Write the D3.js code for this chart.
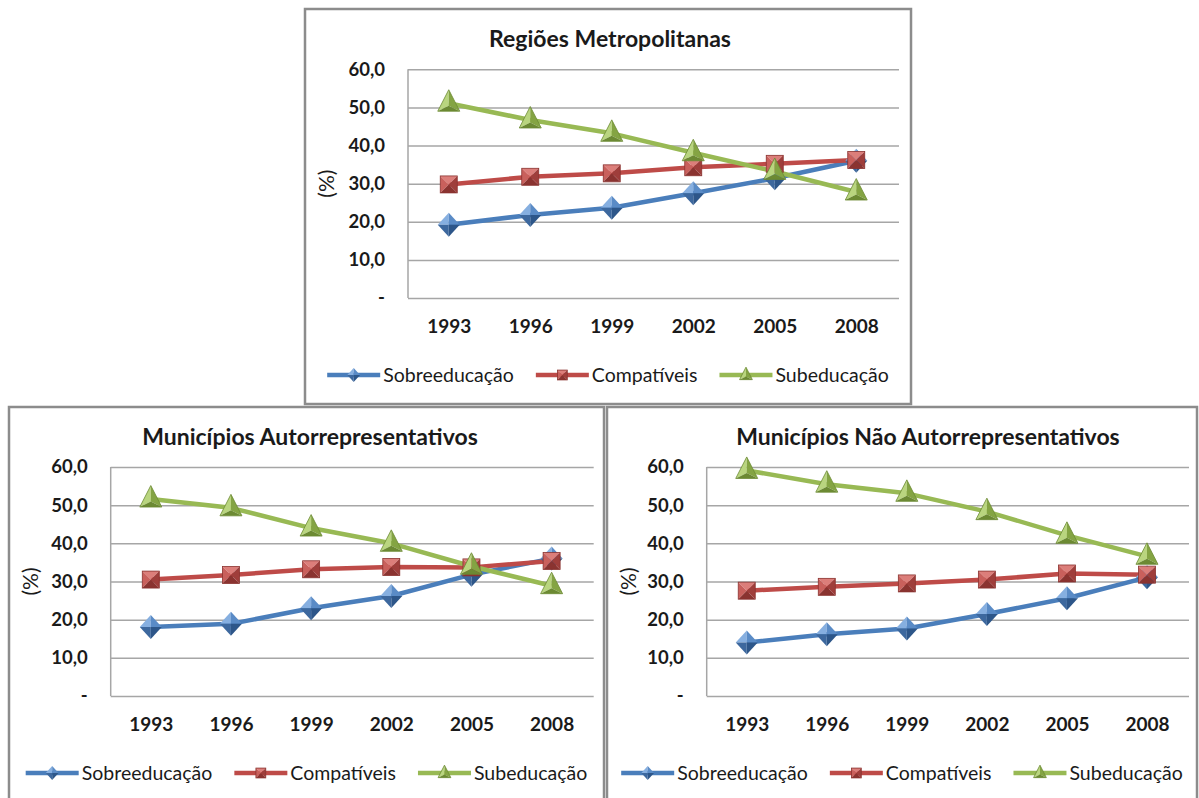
<!DOCTYPE html>
<html>
<head>
<meta charset="utf-8">
<script src="https://cdn.jsdelivr.net/npm/d3@7"></script>
<style>
  html, body { margin: 0; padding: 0; background: #fff; }
  svg { display: block; }
  text { font-family: Lato, "Open Sans", sans-serif; fill: #1a1a1a; }
</style>
</head>
<body>
<svg id="chart" width="1199" height="798"></svg>
<script>
// Categories and tick labels
const years = ["1993", "1996", "1999", "2002", "2005", "2008"];
const yTicks = [0, 10, 20, 30, 40, 50, 60];
const yTickLabels = ["-", "10,0", "20,0", "30,0", "40,0", "50,0", "60,0"];
const seriesNames = ["Sobreeducação", "Compatíveis", "Subeducação"];
const panelTitles = ["Regiões Metropolitanas", "Municípios Autorrepresentativos", "Municípios Não Autorrepresentativos"];
const yAxisTitle = "(%)";

// Regiões Metropolitanas (%)
const rmSobre  = [19.2, 21.8, 23.7, 27.5, 31.4, 36.0];
const rmCompat = [29.8, 31.8, 32.7, 34.3, 35.2, 36.2];
const rmSub    = [51.1, 46.7, 43.2, 38.1, 33.2, 27.8];

// Municípios Autorrepresentativos (%)
const maSobre  = [18.1, 18.9, 23.0, 26.2, 31.8, 36.0];
const maCompat = [30.5, 31.7, 33.2, 33.8, 33.7, 35.4];
const maSub    = [51.6, 49.3, 44.0, 40.0, 34.0, 28.9];

// Municípios Não Autorrepresentativos (%)
const mnaSobre  = [14.0, 16.2, 17.7, 21.5, 25.6, 31.1];
const mnaCompat = [27.6, 28.6, 29.5, 30.5, 32.1, 31.8];
const mnaSub    = [59.1, 55.5, 53.1, 48.3, 42.1, 36.6];

// Series styling: line colour, marker shape and bevel facet shades
const seriesStyle = [
  { color: "#4a7ebb", shape: "diamond", shades: ["#86afe0", "#5a8bc6", "#2d5689", "#3d689e"] },
  { color: "#be4b48", shape: "square",  shades: ["#dc7e7a", "#c9605c", "#9f3e3b", "#8a3330"] },
  { color: "#98b954", shape: "triangle", shades: ["#b9d57f", "#84a443", "#6c8a33"] }
];

// Panel layouts (frame box, plot box, text anchors)
const panels = [
  { title: panelTitles[0], values: [rmSobre, rmCompat, rmSub],
    frame: { x: 305, y: 9, w: 606, h: 395 }, plot: { l: 408, r: 897, t: 69.3, b: 298 },
    titleX: 610 },
  { title: panelTitles[1], values: [maSobre, maCompat, maSub],
    frame: { x: 9, y: 407, w: 595, h: 420 }, plot: { l: 110.7, r: 591.7, t: 467, b: 696 },
    titleX: 310 },
  { title: panelTitles[2], values: [mnaSobre, mnaCompat, mnaSub],
    frame: { x: 607, y: 407, w: 590, h: 420 }, plot: { l: 706.7, r: 1187, t: 467, b: 696 },
    titleX: 928 }
];

const svg = d3.select("#chart");

// Bevelled marker drawn as facets around its centre
function drawMarker(g, style, k) {
  const s = style.shades;
  if (style.shape === "diamond") {
    const w = 11 * k, h = 12 * k;
    const facets = [
      [[0, 0], [-w, 0], [0, -h]],
      [[0, 0], [0, -h], [w, 0]],
      [[0, 0], [w, 0], [0, h]],
      [[0, 0], [0, h], [-w, 0]]
    ];
    facets.forEach((f, i) => g.append("path").attr("d", d3.line()(f) + "Z").attr("fill", s[i]));
  } else if (style.shape === "square") {
    const a = 8.5 * k, c = [0, 0];
    const facets = [
      [c, [-a, -a], [a, -a]],
      [c, [-a, -a], [-a, a]],
      [c, [a, -a], [a, a]],
      [c, [-a, a], [a, a]]
    ];
    facets.forEach((f, i) => g.append("path").attr("d", d3.line()(f) + "Z").attr("fill", s[i]));
    g.append("rect").attr("x", -a).attr("y", -a).attr("width", 2 * a).attr("height", 2 * a)
      .attr("fill", "none").attr("stroke", "#8a3330").attr("stroke-width", 0.8);
  } else {
    const top = [0, -13.5 * k], bl = [-11 * k, 8 * k], br = [11 * k, 8 * k], c = [0, 2.5 * k];
    const facets = [[top, bl, c], [top, c, br], [bl, br, c]];
    facets.forEach((f, i) => g.append("path").attr("d", d3.line()(f) + "Z").attr("fill", s[i]));
    g.append("path").attr("d", d3.line()([top, bl, br]) + "Z")
      .attr("fill", "none").attr("stroke", "#6c8a33").attr("stroke-width", 0.8);
  }
}

panels.forEach(p => {
  const g = svg.append("g");
  const { l, r, t, b } = p.plot;

  const x = d3.scalePoint().domain(years).range([l, r]).padding(0.5);
  const y = d3.scaleLinear().domain([0, 60]).range([b, t]);

  // Outer frame
  g.append("rect")
    .attr("x", p.frame.x).attr("y", p.frame.y)
    .attr("width", p.frame.w).attr("height", p.frame.h)
    .attr("fill", "#fff").attr("stroke", "#8c8c8c").attr("stroke-width", 2.5);

  // Title
  g.append("text")
    .attr("x", p.titleX).attr("y", p.frame.y + 38)
    .attr("text-anchor", "middle")
    .style("font-size", "23px").style("font-weight", "700")
    .text(p.title);

  // Horizontal gridlines
  g.append("g")
    .attr("transform", `translate(${l},0)`)
    .call(d3.axisLeft(y).tickValues(yTicks).tickSize(-(r - l + 2)).tickFormat(""))
    .call(a => a.select(".domain").remove())
    .call(a => a.selectAll("line").attr("stroke", "#a6a6a6").attr("stroke-width", 1.5));

  // Left axis line
  g.append("line").attr("x1", l).attr("x2", l).attr("y1", t).attr("y2", b)
    .attr("stroke", "#a6a6a6").attr("stroke-width", 1.5);

  // Y tick labels
  g.append("g")
    .attr("transform", `translate(${l},0)`)
    .call(d3.axisLeft(y).tickValues(yTicks).tickSize(0).tickPadding(23)
      .tickFormat((d, i) => yTickLabels[i]))
    .call(a => a.select(".domain").remove())
    .call(a => a.selectAll("text")
      .style("font-family", "Lato, sans-serif").style("font-size", "18.5px")
      .style("font-weight", "700").attr("fill", "#1a1a1a"));

  // X tick labels
  g.append("g")
    .attr("transform", `translate(0,${b})`)
    .call(d3.axisBottom(x).tickSize(0).tickPadding(22))
    .call(a => a.select(".domain").remove())
    .call(a => a.selectAll("text")
      .style("font-family", "Lato, sans-serif").style("font-size", "19px")
      .style("font-weight", "700").attr("fill", "#1a1a1a"));

  // Y axis title
  g.append("text")
    .attr("transform", `translate(${p.frame.x + 22},${(t + b) / 2}) rotate(-90)`)
    .attr("text-anchor", "middle").attr("dy", "0.35em")
    .style("font-size", "21px")
    .text(yAxisTitle);

  // Lines
  const line = d3.line().x((d, i) => x(years[i])).y(d => y(d));
  p.values.forEach((vals, si) => {
    g.append("path").datum(vals)
      .attr("d", line)
      .attr("fill", "none")
      .attr("stroke", seriesStyle[si].color)
      .attr("stroke-width", 4.5)
      .attr("stroke-linejoin", "round");
  });

  // Markers
  p.values.forEach((vals, si) => {
    vals.forEach((v, i) => {
      const m = g.append("g").attr("transform", `translate(${x(years[i])},${y(v)})`);
      drawMarker(m, seriesStyle[si], 1);
    });
  });

  // Legend, centred in the frame
  const leg = g.append("g");
  let cx = 0;
  seriesNames.forEach((name, si) => {
    const it = leg.append("g").attr("transform", `translate(${cx},0)`);
    it.append("line").attr("x1", 0).attr("x2", 53).attr("y1", 0).attr("y2", 0)
      .attr("stroke", seriesStyle[si].color).attr("stroke-width", 4.5);
    const mk = it.append("g").attr("transform", "translate(26.5,0)");
    drawMarker(mk, seriesStyle[si], 0.58);
    const tx = it.append("text").attr("x", 56).attr("dy", "0.35em")
      .style("font-size", "19.5px").text(name);
    const w = 56 + tx.node().getComputedTextLength();
    cx += w + 22;
  });
  const total = cx - 22;
  leg.attr("transform", `translate(${p.frame.x + p.frame.w / 2 - total / 2},${p.frame.y + 366})`);
});
</script>
</body>
</html>
